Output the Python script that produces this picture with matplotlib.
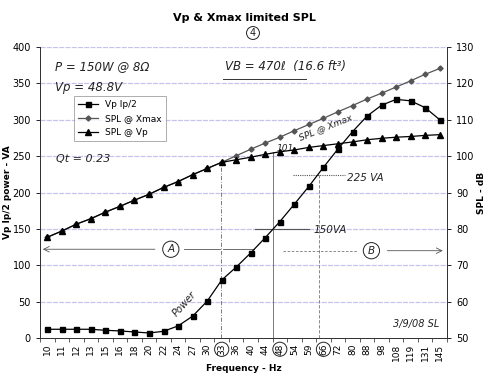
import matplotlib
matplotlib.use("Agg")
import matplotlib.pyplot as plt
import numpy as np

freqs = ["10", "11", "12", "13", "15", "16", "18", "20", "22", "24", "27", "30", "33", "36",
         "40", "44", "48", "54", "59", "66", "72", "80", "88", "98", "108", "119", "131", "145"]
power_va = [12, 12, 12, 12, 10.6, 9.7, 8.3, 6.9, 9.2, 16.6, 30, 50.6, 79.6, 97.5,
            117, 138, 160, 184, 208.5, 234.6, 259.8, 283.6, 305, 320, 328, 326, 316.6, 300]
spl_vp = [77.7, 79.4, 81.3, 82.8, 84.6, 86.2, 87.9, 89.5, 91.4, 93, 94.9, 96.6, 98.3, 99,
          99.7, 100.5, 101.2, 101.7, 102.4, 102.9, 103.4, 103.9, 104.5, 104.9, 105.2, 105.4, 105.7, 105.9]
spl_xmax = [77.7, 79.4, 81.3, 82.8, 84.6, 86.2, 87.9, 89.5, 91.4, 93, 94.9, 96.6, 98.3, 100.1,
            101.9, 103.6, 105.2, 107, 108.7, 110.4, 112.2, 113.9, 115.7, 117.3, 119, 120.7, 122.5, 124.1]
circled_ticks = ["33", "48", "66"]

fig = plt.figure(figsize=(4.88, 3.79), dpi=100)
ax = fig.add_axes([40/488, 1-338/379, 407/488, 291/379])
ax2 = ax.twinx()

x = np.arange(len(freqs))
grid_c = "#c4c4ec"
ax.set_xlim(-0.5, len(freqs)-0.5)
ax.set_ylim(0, 400)
ax2.set_ylim(50, 130)
for v in range(50, 401, 50):
    ax.axhline(v, color=grid_c, lw=0.9, ls=(0, (4, 1)), zorder=0)

l3, = ax2.plot(x, spl_xmax, color="#555555", marker="D", ms=2.6, lw=0.9, label="SPL @ Xmax", zorder=3)
l4, = ax2.plot(x, spl_vp, color="black", marker="^", ms=4, lw=0.9, label="SPL @ Vp", zorder=4)
l1, = ax2.plot([], [], color="black", marker="s", ms=3.6, lw=0.9, label="Vp Ip/2")
ax2.plot(np.array(x), np.array(power_va)/5+50, color="black", marker="s", ms=3.6, lw=0.9, zorder=5)

ax.set_xticks(x)
ax.set_xticklabels(freqs, rotation=90, fontsize=6.5)
for lab in ax.get_xticklabels():
    if lab.get_text() in circled_ticks:
        lab.set_bbox(dict(boxstyle="circle,pad=0.15", fc="none", ec="#222222", lw=0.7))
ax.set_xticks(np.arange(-0.5, len(freqs), 1), minor=True)
ax.tick_params(axis="x", which="major", length=0, pad=4)
ax.tick_params(axis="x", which="minor", length=3, direction="out", color="#444444")
ax.set_yticks(range(0, 401, 50))
ax.tick_params(axis="y", labelsize=7, length=3, width=0.6)
ax2.set_yticks(range(50, 131, 10))
ax2.tick_params(axis="y", labelsize=7, length=3, width=0.6)
for a in (ax, ax2):
    a.spines["top"].set_visible(False)
    for s in ("left", "right", "bottom"):
        a.spines[s].set_linewidth(0.7)
        a.spines[s].set_color("#333333")

ax.set_xlabel("Frequency - Hz", fontsize=6.5, fontweight="bold")
ax.xaxis.set_label_coords(0.5, (338-364)/291)
ax.set_ylabel("Vp Ip/2 power - VA", fontsize=6.5, fontweight="bold")
ax.yaxis.set_label_coords((12-40)/407, 0.5)
ax2.set_ylabel("SPL - dB", fontsize=6.5, fontweight="bold", rotation=90)
ax2.yaxis.set_label_coords((477-40)/407, 0.5)
fig.text(0.5, 1-18/379, "Vp & Xmax limited SPL", ha="center", va="center", fontsize=8, fontweight="bold")

leg = ax2.legend(handles=[l1, l3, l4], loc="upper left", bbox_to_anchor=(29/407, 1-44/291),
                 fontsize=6.5, frameon=True, fancybox=False, edgecolor="#888888",
                 handlelength=2.2, borderpad=0.5, labelspacing=0.55)
leg.get_frame().set_linewidth(0.6)

# hand-drawn annotations
hw = dict(family="DejaVu Sans", style="italic", color="#222222", fontweight="light")
ax.text(0.5, 368, "P = 150W @ 8Ω", fontsize=8.5, **hw)
ax.text(0.5, 340, "Vp = 48.8V", fontsize=8.5, **hw)
ax.text(0.6, 242, "Qt = 0.23", fontsize=8, **hw)
ax.text(12.2, 368, "VB = 470ℓ  (16.6 ft³)", fontsize=8.5, **hw)
ax.plot([12.1, 17.8], [356, 356], color="#333333", lw=0.7)
fig.text(253/488, 1-33/379, "4", ha="center", va="center", fontsize=7, color="#222222",
         bbox=dict(boxstyle="circle,pad=0.15", fc="none", ec="#222222", lw=0.7))
ax.text(17.2, 272, "SPL @ Xmax", fontsize=6.5, rotation=22, **hw)
ax.text(15.8, 257, "101", fontsize=6.5, **hw)
ax.plot([16.9, 20.5], [224, 224], color="#555555", lw=0.8, ls=(0, (1, 1)))
ax.text(20.6, 216, "225 VA", fontsize=7.5, **hw)
ax.plot([14.3, 18.0], [150, 150], color="#555555", lw=0.8)
ax.text(18.3, 144, "150VA", fontsize=7.5, **hw)
circ = dict(boxstyle="circle,pad=0.3", fc="white", ec="#222222", lw=0.7)
ax.text(8.5, 122, "A", fontsize=7.5, ha="center", va="center", color="#222222", bbox=circ, style="italic")
ax.text(22.3, 120, "B", fontsize=7.5, ha="center", va="center", color="#222222", bbox=circ, style="italic")
ax.annotate("", xy=(-0.5, 122), xytext=(7.6, 122), arrowprops=dict(arrowstyle="->", lw=0.6, color="#555555"))
ax.plot([9.4, 11.9], [122, 122], color="#555555", lw=0.6)
ax.plot([12.1, 14.2], [122, 122], color="#555555", lw=0.6)
ax.annotate("", xy=(27.4, 120), xytext=(23.2, 120), arrowprops=dict(arrowstyle="->", lw=0.6, color="#555555"))
ax.plot([16.2, 21.4], [120, 120], color="#777777", lw=0.6, ls=(0, (3, 2)))
ax.text(8.5, 30, "Power", fontsize=7, rotation=48, **hw)
ax.text(23.8, 15, "3/9/08 SL", fontsize=7, **hw)
ax.plot([11.97, 11.97], [0, 240], color="#666666", lw=0.6, ls=(0, (5, 2, 1, 2)))
ax.plot([15.5, 15.5], [0, 255], color="#666666", lw=0.6)
ax.plot([18.7, 18.7], [0, 225], color="#777777", lw=0.6, ls=(0, (4, 2)))

fig.savefig("out.png", dpi=100)
